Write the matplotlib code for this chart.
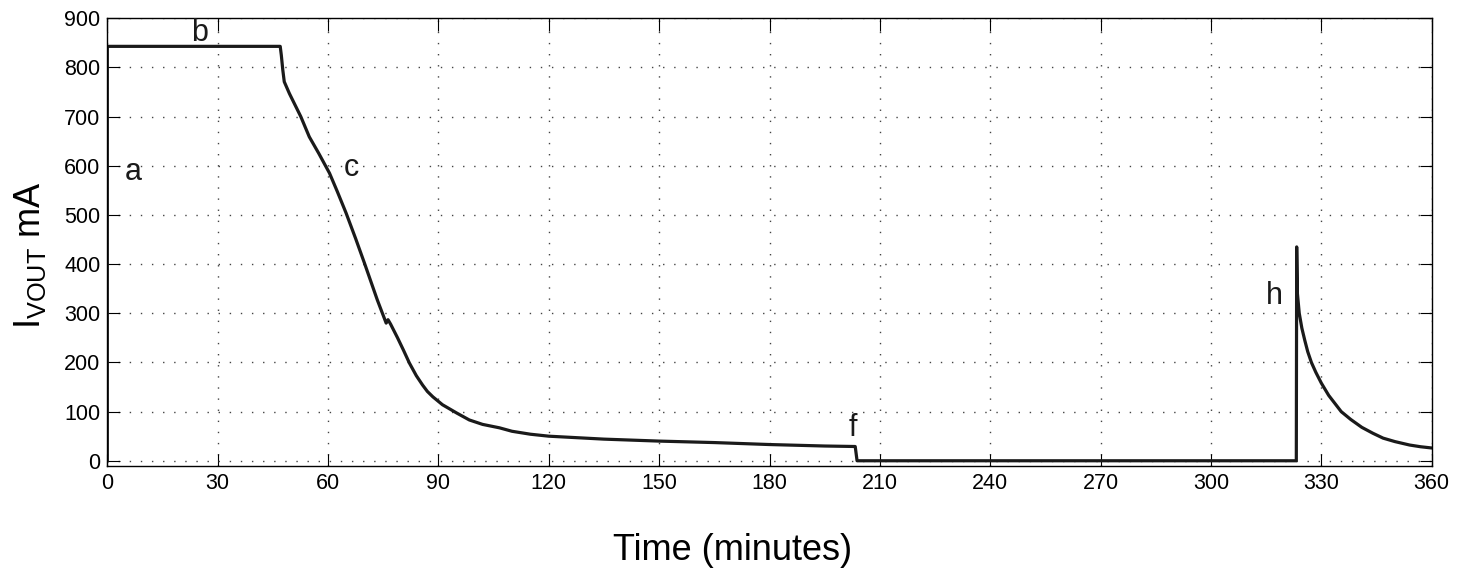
import numpy as np
import matplotlib.pyplot as plt

plt.rcParams['font.family'] = ['Liberation Sans', 'DejaVu Sans']
plt.rcParams['mathtext.fontset'] = 'custom'
plt.rcParams['mathtext.rm'] = 'Liberation Sans'
plt.rcParams['mathtext.it'] = 'Liberation Sans'

# time in minutes, current in mA
t_min = [0, 0, 47, 47.3, 47.7, 48.1, 49.5, 52.6, 54.9, 57.5, 60.4, 62.5,
         64.9, 67.5, 69.9, 73.4, 75.8, 76.3, 77.0, 78.9, 80.5, 82.1, 84,
         85.7, 87, 88.5, 91.1, 95, 98.4, 102, 106.6, 110, 115, 120, 135,
         150, 165, 180, 195, 203.3, 203.8, 323.2, 323.3, 323.5, 324, 324.7,
         325.5, 326.3, 327.3, 328.5, 330, 332, 335.4, 338, 341, 344, 346.8,
         350, 354, 357, 360]
i_ma = [0, 843, 843, 825, 795, 771, 747, 700, 659, 625, 585, 548,
        504, 452, 402, 327, 280, 287, 278, 250, 225, 199, 173,
        154, 141, 130, 114, 97, 83, 74, 67, 60, 54, 50, 44,
        40, 37, 33, 30, 29, 0, 0, 435, 340, 300, 270,
        245, 222, 200, 180, 158, 133, 100, 84, 68, 56, 46,
        39, 32, 28.5, 26]

# phase labels
lab_txt = ['a', 'b', 'c', 'f', 'h']
lab_t = [7, 25, 66.3, 202.6, 317.3]
lab_i = [587, 870, 595, 67, 335]

x_ticks = np.arange(0, 361, 30)
y_ticks = np.arange(0, 901, 100)

fig = plt.figure(figsize=(14.66, 5.73), dpi=100)
ax = fig.add_axes([0.0732, 0.1873, 0.9034, 0.7807])

ax.plot(t_min, i_ma, color='#1a1a1a', lw=2.3, solid_joinstyle='round')

for s, x, y in zip(lab_txt, lab_t, lab_i):
    ax.text(x, y, s, fontsize=22, ha='center', va='center', color='#1a1a1a')

ax.set_xlim(0, 360)
ax.set_ylim(-10, 900)
ax.set_xticks(x_ticks)
ax.set_yticks(y_ticks)
ax.tick_params(direction='in', length=9, width=0.8, top=True, right=True,
               labelsize=15.5, pad=5)
ax.grid(True, color='#444444', lw=1.0, linestyle=(0, (1, 7)))
for sp in ax.spines.values():
    sp.set_linewidth(1.0)

fig.text(0.5, 1 - 550 / 573, 'Time (minutes)', fontsize=26, ha='center', va='center')
fig.text(30 / 1466, 1 - 255 / 573, r'I$_{\mathrm{VOUT}}$ mA', fontsize=26,
         ha='center', va='center', rotation=90)

fig.savefig('out.png', dpi=100)
